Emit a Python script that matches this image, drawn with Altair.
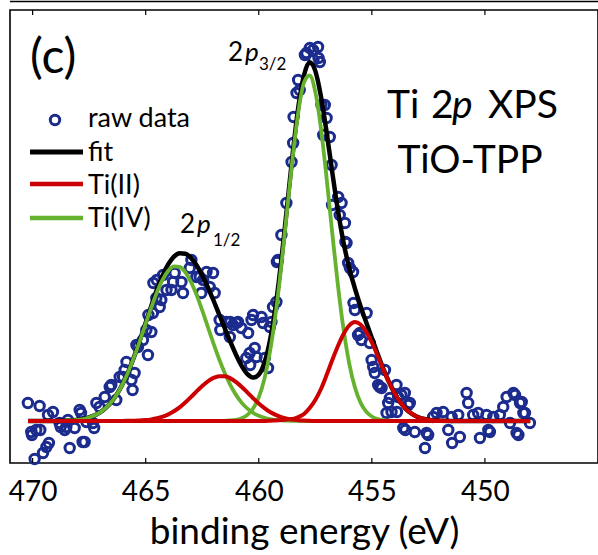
import altair as alt
import pandas as pd

# ---- measured spectrum: binding energy (eV) and intensity (arb. units above background)
raw_ev = [
    470.21, 470.06, 470.03, 469.91, 469.84, 469.69, 469.66, 469.54, 469.39, 469.32,
    469.28, 469.10, 468.81, 468.76, 468.58, 468.51, 468.44, 468.36, 468.14, 467.92,
    467.86, 467.79, 467.70, 467.62, 467.33, 467.28, 467.18, 467.04, 466.81, 466.59,
    466.52, 466.30, 466.15, 466.00, 465.93, 465.85, 465.63, 465.58, 465.49, 465.41,
    465.34, 465.12, 464.97, 464.90, 464.88, 464.75, 464.68, 464.66, 464.53, 464.51,
    464.38, 464.31, 464.23, 464.08, 463.86, 463.79, 463.72, 463.42, 463.35, 463.05,
    462.98, 462.76, 462.61, 462.54, 462.46, 462.31, 462.17, 462.02, 461.95, 461.73,
    461.70, 461.43, 461.28, 461.26, 461.14, 460.99, 460.92, 460.77, 460.55, 460.47,
    460.40, 460.38, 460.32, 460.25, 460.18, 460.10, 459.88, 459.81, 459.73, 459.59,
    459.51, 459.44, 459.37, 459.22, 459.20, 459.15, 459.00, 458.78, 458.55, 458.48,
    458.46, 458.33, 458.26, 458.19, 457.96, 457.89, 457.74, 457.60, 457.58, 457.38,
    457.36, 457.30, 457.23, 457.15, 457.08, 457.00, 456.86, 456.78, 456.76, 456.49,
    456.42, 456.34, 456.19, 456.17, 456.12, 456.05, 455.97, 455.83, 455.81, 455.75,
    455.61, 455.53, 455.46, 455.23, 455.09, 455.01, 454.94, 454.87, 454.72, 454.65,
    454.57, 454.42, 454.35, 454.28, 454.20, 454.13, 453.91, 453.89, 453.84, 453.69,
    453.61, 453.54, 453.52, 453.39, 453.32, 453.10, 452.65, 452.58, 452.51, 452.29,
    452.14, 451.85, 451.62, 451.47, 451.45, 451.18, 451.11, 450.81, 450.74, 450.52,
    450.30, 450.22, 449.93, 449.85, 449.78, 449.63, 449.34, 449.19, 449.04, 448.89,
    448.74, 448.67, 448.60, 448.52, 448.45, 448.37, 448.30, 448.23, 448.01,
]
raw_int = [
    18, -11, -14, -38, -9, 15, -9, -32, -26, 6,
    -22, 9, -2, -6, -9, -6, 1, -27, -7, 11,
    8, -21, -21, -1, -2, -7, 18, 14, 24, 34,
    36, 21, 44, 44, 51, 59, 41, 31, 48, 76,
    74, 81, 91, 66, 106, 89, 108, 138, 123, 141,
    114, 121, 146, 131, 131, 139, 148, 139, 128, 153,
    161, 144, 144, 128, 141, 149, 134, 148, 128, 101,
    91, 99, 84, 99, 96, 98, 99, 93, 63, 88,
    68, 56, 101, 106, 73, 64, 104, 98, 63, 53,
    94, 99, 114, 119, 159, 161, 186, 218, 259, 278,
    304, 328, 341, 331, 366, 368, 373, 371, 361, 374,
    363, 359, 316, 286, 316, 303, 284, 256, 216, 224,
    206, 218, 198, 179, 178, 158, 153, 149, 118, 111,
    86, 88, 81, 108, 78, 61, 54, 48, 36, 34,
    33, 51, 8, 18, 23, 9, 36, 9, 24, 26,
    -7, 28, -9, 16, 18, -11, -27, -12, -14, 4,
    8, 9, -9, 4, -22, 6, -16, 28, 18, 6,
    8, -17, 6, -9, -11, 4, 6, 14, 24, -2,
    28, 26, -12, -14, 18, 19, 8, 8, -2,
]

# ---- peak fit, sampled on a common energy grid
fit_ev = [
    470.2, 469.5, 469.0, 468.5, 468.0, 467.5, 467.0,
    466.75, 466.5, 466.25, 466.0, 465.75, 465.5, 465.25, 465.0,
    464.75, 464.5, 464.25, 464.0, 463.75, 463.5, 463.25, 463.0,
    462.75, 462.5, 462.25, 462.0, 461.75, 461.5, 461.25, 461.0,
    460.75, 460.5, 460.25, 460.0, 459.75, 459.5, 459.25, 459.0,
    458.75, 458.5, 458.25, 458.0, 457.75, 457.5, 457.25, 457.0,
    456.75, 456.5, 456.25, 456.0, 455.75, 455.5, 455.25, 455.0,
    454.75, 454.5, 454.25, 454.0, 453.75, 453.5, 453.25, 453.0,
    452.5, 452.0, 451.0, 450.0, 449.0, 448.0,
]
fit_total = [
    0, 0, 0.1, 0.4, 1.2, 3.5, 8.9,
    13.4, 19.5, 27.6, 38.0, 50.5, 65.1, 81.3, 98.3,
    115.4, 131.6, 145.7, 156.8, 164.4, 167.8, 167.3, 163.1,
    155.7, 145.6, 133.7, 120.5, 106.5, 92.6, 78.8, 66.0,
    54.9, 46.8, 43.4, 46.4, 58.2, 81.0, 115.7, 161.3,
    214.1, 267.3, 314.2, 345.8, 358.7, 350.1, 324.6, 288.7,
    248.8, 210.7, 178.4, 152.9, 132.7, 114.9, 98.7, 83.0,
    67.5, 52.7, 39.4, 28.0, 19.0, 12.2, 7.5, 4.3,
    1.3, 0.3, 0, 0, 0, 0,
]
ti4_2p12 = [
    0, 0, 0.1, 0.4, 1.2, 3.5, 8.9,
    13.4, 19.5, 27.6, 37.9, 50.3, 64.8, 80.7, 97.4,
    113.8, 128.9, 141.4, 150.2, 154.6, 154.1, 148.8, 139.2,
    126.1, 110.6, 94.0, 77.4, 61.7, 47.7, 35.7, 25.9,
    18.1, 12.3, 8.1, 5.2, 3.2, 1.9, 1.1, 0.6,
    0.3, 0.2, 0.1, 0, 0, 0, 0, 0,
    0, 0, 0, 0, 0, 0, 0, 0,
    0, 0, 0, 0, 0, 0, 0, 0,
    0, 0, 0, 0, 0, 0,
]
ti4_2p32 = [
    0, 0, 0, 0, 0, 0, 0,
    0, 0, 0, 0, 0, 0, 0, 0,
    0, 0, 0, 0, 0, 0, 0, 0,
    0, 0, 0, 0, 0, 0.2, 0.5, 1.2,
    2.8, 6.1, 12.5, 23.7, 42.1, 69.8, 107.9, 155.8,
    209.9, 263.7, 309.3, 338.4, 345.5, 329.1, 292.6, 242.7,
    187.8, 135.7, 91.4, 57.4, 33.7, 18.4, 9.4, 4.5,
    2.0, 0.8, 0.3, 0.1, 0, 0, 0, 0,
    0, 0, 0, 0, 0, 0,
]
ti2_2p12 = [
    0, 0, 0, 0, 0, 0, 0,
    0, 0, 0, 0.1, 0.2, 0.3, 0.6, 0.9,
    1.6, 2.7, 4.3, 6.6, 9.8, 13.7, 18.5, 23.9,
    29.6, 35.0, 39.7, 43.1, 44.8, 44.7, 42.6, 38.9,
    34.0, 28.4, 22.8, 17.5, 12.9, 9.0, 6.1, 3.9,
    2.4, 1.4, 0.8, 0.4, 0.2, 0, 0, 0,
    0, 0, 0, 0, 0, 0, 0, 0,
    0, 0, 0, 0, 0, 0, 0, 0,
    0, 0, 0, 0, 0, 0,
]
ti2_2p32 = [
    0, 0, 0, 0, 0, 0, 0,
    0, 0, 0, 0, 0, 0, 0, 0,
    0, 0, 0, 0, 0, 0, 0, 0,
    0, 0, 0, 0, 0, 0, 0, 0,
    0, 0, 0, 0, 0, 0.3, 0.6, 1.0,
    1.5, 2.0, 4.0, 7.0, 13.0, 21.0, 32.0, 46.0,
    61.0, 75.0, 87.0, 95.5, 99.0, 96.5, 89.3, 78.5,
    65.5, 51.9, 39.1, 27.9, 19.0, 12.2, 7.5, 4.3,
    1.3, 0.3, 0, 0, 0, 0,
]

tick_values = [470, 465, 460, 455, 450]
legend_labels = ["raw data", "fit", "Ti(II)", "Ti(IV)"]

NAVY = "#1c2c8e"
RED = "#cc0000"
GREEN = "#66b22e"
FONT = "Lato"

W, H = 588, 453
x_scale = alt.Scale(domain=[471, 445], nice=False, zero=False)
y_scale = alt.Scale(domain=[-42, 411], nice=False, zero=False)

x_axis = alt.Axis(
    values=tick_values, format="d", ticks=False, domain=False, grid=False,
    labelFont=FONT, labelFontSize=28, labelColor="black", labelPadding=15,
    labelFlush=False,
    title="binding energy (eV)", titleFont=FONT, titleFontSize=37,
    titleFontWeight="normal", titleColor="black", titlePadding=8,
)

MARK_SIZE = 88
MARK_STROKE = 3.0

raw_df = pd.DataFrame({"ev": raw_ev, "intensity": raw_int})
points = alt.Chart(raw_df).mark_point(
    shape="circle", filled=False, size=MARK_SIZE, strokeWidth=MARK_STROKE,
    color=NAVY, opacity=1,
).encode(
    x=alt.X("ev:Q", scale=x_scale, axis=x_axis),
    y=alt.Y("intensity:Q", scale=y_scale, axis=None),
)


def curve(values, color, width):
    df = pd.DataFrame({"ev": fit_ev, "intensity": values})
    return alt.Chart(df).mark_line(
        color=color, strokeWidth=width, interpolate="monotone"
    ).encode(
        x=alt.X("ev:Q", scale=x_scale),
        y=alt.Y("intensity:Q", scale=y_scale),
    )


ticks_df = pd.DataFrame({"ev": tick_values})
bottom_ticks = alt.Chart(ticks_df).mark_rule(color="black", strokeWidth=1.2).encode(
    x=alt.X("ev:Q", scale=x_scale), y=alt.value(H - 5), y2=alt.value(H)
)
top_ticks = alt.Chart(ticks_df).mark_rule(color="black", strokeWidth=1.2).encode(
    x=alt.X("ev:Q", scale=x_scale), y=alt.value(0), y2=alt.value(5)
)

one = pd.DataFrame({"k": [0]})
# bottom frame of the neighbouring panel above
upper_frame = alt.Chart(one).mark_rule(color="black", strokeWidth=1.6).encode(
    x=alt.value(0), x2=alt.value(W), y=alt.value(-8.5)
)


def text(txt, x, y, size, italic=False, align="left"):
    return alt.Chart(pd.DataFrame({"t": [txt]})).mark_text(
        align=align, baseline="alphabetic", font=FONT, fontSize=size,
        fontStyle="italic" if italic else "normal", color="black",
    ).encode(x=alt.value(x), y=alt.value(y), text="t:N")


def key_line(color, y, width):
    return alt.Chart(one).mark_rule(color=color, strokeWidth=width).encode(
        x=alt.value(20), x2=alt.value(73), y=alt.value(y)
    )


key_marker = alt.Chart(one).mark_point(
    shape="circle", filled=False, size=MARK_SIZE, strokeWidth=MARK_STROKE,
    color=NAVY, opacity=1,
).encode(x=alt.value(45), y=alt.value(110))

annotations = [
    text("(c)", 20, 63, 48),
    key_marker,
    text(legend_labels[0], 78, 117, 27),
    key_line("black", 142, 5),
    text(legend_labels[1], 78, 151, 27),
    key_line(RED, 174, 4.5),
    text(legend_labels[2], 78, 184, 27),
    key_line(GREEN, 208, 4.5),
    text(legend_labels[3], 78, 217, 27),
    text("2", 218, 51, 26),
    text("p", 235, 51, 26, italic=True),
    text("3/2", 249, 60, 17),
    text("2", 170, 223, 26),
    text("p", 187, 223, 26, italic=True),
    text("1/2", 203, 236, 17),
    text("Ti", 377, 108, 39),
    text("2", 421, 108, 39),
    text("p", 442, 108, 39, italic=True),
    text("XPS", 478, 108, 39),
    text("TiO-TPP", 460, 163, 39, align="center"),
]

chart = alt.layer(
    points,
    curve(fit_total, "black", 4.5),
    curve(ti4_2p12, GREEN, 3.8),
    curve(ti4_2p32, GREEN, 3.8),
    curve(ti2_2p12, RED, 4),
    curve(ti2_2p32, RED, 4),
    bottom_ticks,
    top_ticks,
    upper_frame,
    *annotations,
).properties(
    width=W, height=H,
    autosize=alt.AutoSizeParams(type="none"),
    padding={"left": 10, "top": 10, "right": 0, "bottom": 92},
    background="white",
).configure_view(
    stroke="black", strokeWidth=1.6, clip=False
)

chart.save("out.html", embed_options={"renderer": "svg", "actions": False})
